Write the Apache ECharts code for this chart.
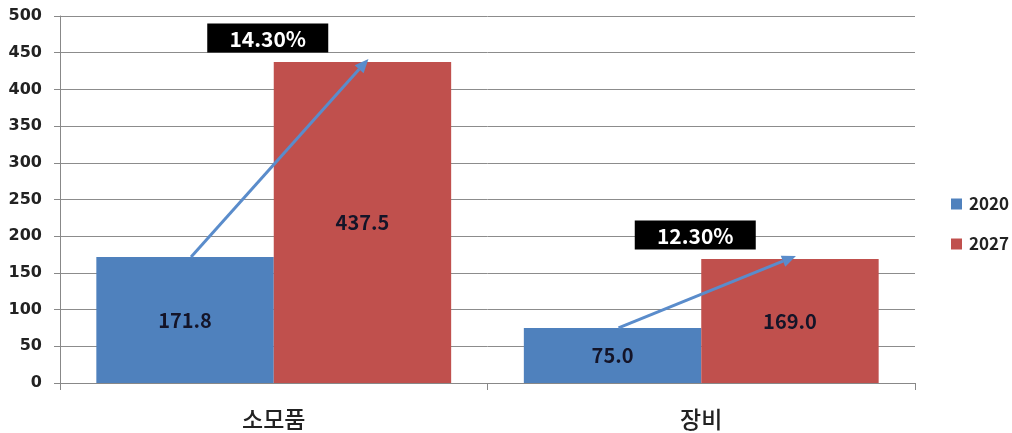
<!DOCTYPE html>
<html>
<head>
<meta charset="utf-8">
<script src="https://cdn.jsdelivr.net/npm/echarts@6/dist/echarts.min.js"></script>
<style>
  html, body { margin: 0; padding: 0; background: #fff; }
  #chart { width: 1012px; height: 433px; }
</style>
</head>
<body>
<div id="chart"></div>
<script>
// Market size by segment, 2020 vs 2027, with the growth rate between them
const categories = ['소모품', '장비'];
const values2020 = [171.8, 75.0];
const values2027 = [437.5, 169.0];
const growthRates = ['14.30%', '12.30%'];
const yTicks = { min: 0, max: 500, interval: 50 };

const BLUE = '#4f81bd';
const RED = '#c0504d';
const ARROW = '#5a8ccb';
const CAT_GAP = 0.17;

const font = '"Noto Sans CJK KR", "Noto Sans", sans-serif';
const numFont = '"DejaVu Sans", "Noto Sans", sans-serif';

const chart = echarts.init(document.getElementById('chart'));

// Arrow from the top of the 2020 bar to the top of the 2027 bar, with the growth box above
function renderGrowth(params, api) {
  const i = api.value(0);
  const v0 = api.value(1);
  const v1 = api.value(2);
  const label = growthRates[params.dataIndex];
  const base = api.coord([i, 0]);
  const band = api.size([1, 0])[0];
  const bw = band * (1 - CAT_GAP) / 2;
  const x0 = base[0] - bw / 2 + 6;
  const x1 = base[0] + bw / 2 + 6;
  const y0 = api.coord([i, v0])[1];
  const y1 = api.coord([i, v1])[1] - 3;
  const ang = Math.atan2(y1 - y0, x1 - x0);
  const headLen = 14, headW = 6;
  const bx = x1 - headLen * Math.cos(ang);
  const by = y1 - headLen * Math.sin(ang);
  const nx = -Math.sin(ang), ny = Math.cos(ang);
  const topRed = api.coord([i, v1])[1];
  const boxW = 121, boxH = 29;
  const boxCx = base[0] - 6;
  const boxCy = topRed - 24;
  return {
    type: 'group',
    children: [
      {
        type: 'line',
        shape: { x1: x0, y1: y0, x2: bx, y2: by },
        style: { stroke: ARROW, lineWidth: 3 }
      },
      {
        type: 'polygon',
        shape: { points: [[x1, y1], [bx + nx * headW, by + ny * headW], [bx - nx * headW, by - ny * headW]] },
        style: { fill: ARROW }
      },
      {
        type: 'rect',
        shape: { x: boxCx - boxW / 2, y: boxCy - boxH / 2, width: boxW, height: boxH },
        style: { fill: '#000' }
      },
      {
        type: 'text',
        style: {
          x: boxCx, y: boxCy + 1, text: label,
          fill: '#fff', font: 'bold 21px ' + font,
          align: 'center', verticalAlign: 'middle'
        }
      }
    ]
  };
}

const barLabel = {
  show: true,
  position: 'inside',
  color: '#141428',
  fontSize: 20,
  fontWeight: 'bold',
  fontFamily: font,
  formatter: p => p.value.toFixed(1)
};

chart.setOption({
  animation: false,
  backgroundColor: '#fff',
  grid: { left: 60, right: 97, top: 16, bottom: 50 },
  legend: {
    orient: 'vertical',
    left: 946,
    top: 190,
    itemWidth: 11,
    itemHeight: 11,
    itemGap: 22,
    icon: 'rect',
    data: ['2020', '2027'],
    textStyle: { fontSize: 17, lineHeight: 18, color: '#222', fontFamily: font, fontWeight: 'bold', padding: [0, 0, 0, 2] }
  },
  xAxis: {
    type: 'category',
    data: categories,
    axisLine: { lineStyle: { color: '#888', width: 1 } },
    axisTick: { show: true, length: 7, lineStyle: { color: '#888' } },
    axisLabel: { margin: 25, fontSize: 23, color: '#222', fontFamily: font, fontWeight: 500 }
  },
  yAxis: {
    type: 'value',
    min: yTicks.min,
    max: yTicks.max,
    interval: yTicks.interval,
    axisLine: { show: true, lineStyle: { color: '#888', width: 1 } },
    axisTick: { show: true, length: 6, lineStyle: { color: '#888' } },
    axisLabel: { margin: 18, fontSize: 16, color: '#222', fontFamily: numFont, fontWeight: 'bold' },
    splitLine: { lineStyle: { color: '#8c8c8c', width: 1 } }
  },
  series: [
    {
      name: '2020', type: 'bar', data: values2020,
      barGap: 0, barCategoryGap: (CAT_GAP * 100) + '%',
      itemStyle: { color: BLUE }, label: barLabel
    },
    {
      name: '2027', type: 'bar', data: values2027,
      barGap: 0, barCategoryGap: (CAT_GAP * 100) + '%',
      itemStyle: { color: RED }, label: barLabel
    },
    {
      name: 'growth', type: 'custom',
      renderItem: renderGrowth,
      data: categories.map((c, i) => [i, values2020[i], values2027[i]]),
      z: 10, silent: true
    }
  ]
});
</script>
</body>
</html>
